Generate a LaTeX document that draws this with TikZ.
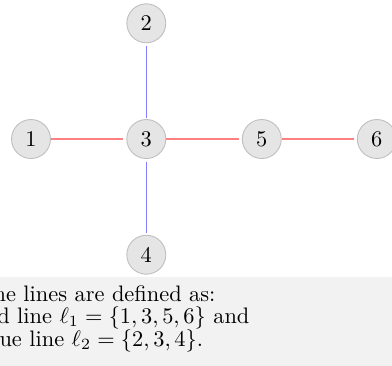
\documentclass[tikz,border=0pt]{standalone}
\begin{document}
\begin{tikzpicture}[x=0.4464pt,y=-0.4464pt,
  vtx/.style={circle,draw=gray!50,fill=gray!20,line width=0.4pt,minimum size=17.4pt,inner sep=0pt,font=\fontsize{10}{10}\selectfont},
  redl/.style={draw=red!50,line width=0.65pt,shorten >=1.3pt},
  bluel/.style={draw=blue!50,line width=0.65pt,shorten <=1.3pt,shorten >=0.7pt},
  captxt/.style={anchor=base west,inner sep=0pt,font=\fontsize{10}{10}\selectfont}]
\useasboundingbox (0,0) rectangle (392,365);
\fill[gray!10] (-5,277) rectangle (397,370);
\node[vtx] (n1) at (31,139) {1};
\node[vtx] (n2) at (146.3,23.3) {2};
\node[vtx] (n3) at (146.3,139) {3};
\node[vtx] (n4) at (146.3,254.7) {4};
\node[vtx] (n5) at (261.8,139) {5};
\node[vtx] (n6) at (376.8,139) {6};
\draw[redl] (n1) -- (n3);
\draw[redl] (n3) -- (n5);
\draw[redl] (n5) -- (n6);
\draw[bluel] (n2) -- (n3);
\draw[bluel] (n3) -- (n4);
\node[captxt] (t1) at (-23,301) {The lines are defined as:};
\node[captxt] (t2) at (-29.6,323.5) {Red line $\ell_1=\{1,3,5,6\}$ and};
\node[captxt] (t3) at (-23,346) {Blue line $\ell_2=\{2,3,4\}$.};
\end{tikzpicture}
\end{document}
